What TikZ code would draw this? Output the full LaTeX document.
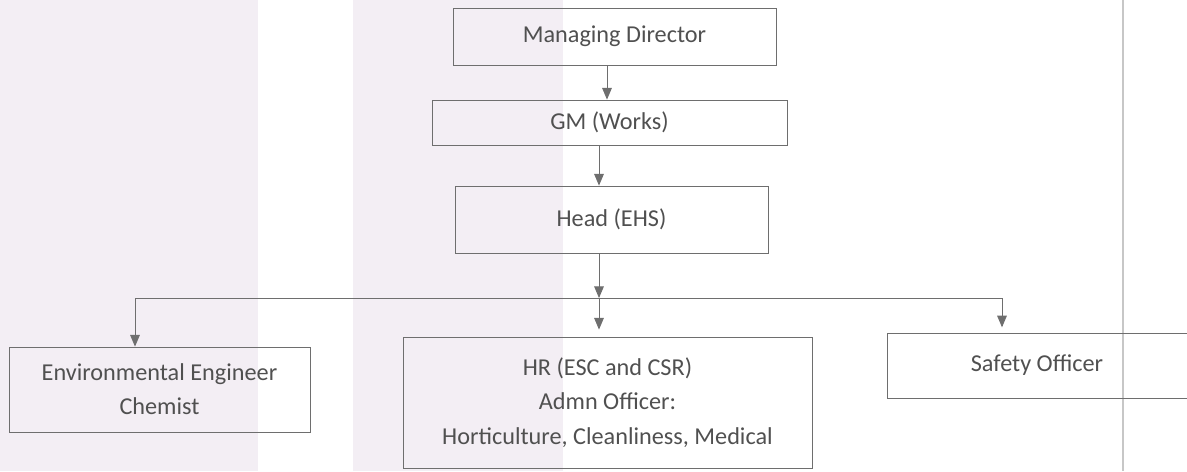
\documentclass[tikz,border=0pt]{standalone}
\usepackage{fontspec}
\setmainfont{Carlito}
\usepackage{tikz}
\usetikzlibrary{arrows}
\definecolor{scanpink}{RGB}{243,238,244}
\definecolor{boxline}{RGB}{110,110,110}
\definecolor{boxtext}{RGB}{80,80,80}

\begin{document}
\begin{tikzpicture}[x=0.02cm,y=-0.02cm]
							\tikzstyle{unit}=[rectangle,draw=boxline,line width=0.5pt,text=boxtext,align=center,font=\fontsize{13.8}{19.5}\selectfont,inner sep=2pt]
							\tikzstyle{link}=[draw=boxline,line width=0.5pt]
							\useasboundingbox (0,0) rectangle (1187,471);
							% scanned page background
							\fill[scanpink] (0,0) rectangle (258,471);
							\fill[scanpink] (353,0) rectangle (563,471);
							\draw[black!22,line width=0.6pt] (1123,0) -- (1123,471);
							\node[unit,minimum width=6.46cm,minimum height=1.14cm] (md) at (614.5,36.5) {Managing Director};
							\node[unit,minimum width=7.1cm,minimum height=0.9cm] (gm) at (609.5,122.5) {GM (Works)};
							\node[unit,minimum width=6.26cm,minimum height=1.34cm] (head) at (611.5,219.5) {Head (EHS)};
							\node[unit,minimum width=6.02cm,minimum height=1.7cm] (env) at (159.5,389.5) {Environmental Engineer\\Chemist};
							\node[unit,minimum width=8.18cm,minimum height=2.62cm] (hr) at (607.5,402.5) {HR (ESC and CSR)\\Admn Officer:\\Horticulture, Cleanliness, Medical};
							\node[unit,minimum width=6cm,minimum height=1.3cm] (safety) at (1037,365.5) {Safety Officer};
							\coordinate (bus) at (599,298);
							\coordinate (busl) at (135,298);
							\coordinate (busr) at (1002,298);
							\draw[link,-triangle 45] (md.south -| 607,0) -- (gm.north -| 607,0);
							\draw[link,-triangle 45] (gm.south -| 599,0) -- (head.north -| 599,0);
							\draw[link,-triangle 45] (head.south -| bus) -- (bus);
							\draw[link] (busl) -- (busr);
							\draw[link,-triangle 45] (busl) -- (busl |- env.north);
							\draw[link,-triangle 45,shorten >=4pt] (bus) -- (bus |- hr.north);
							\draw[link,-triangle 45,shorten >=3pt] (busr) -- (busr |- safety.north);
							\end{tikzpicture}
\end{document}
